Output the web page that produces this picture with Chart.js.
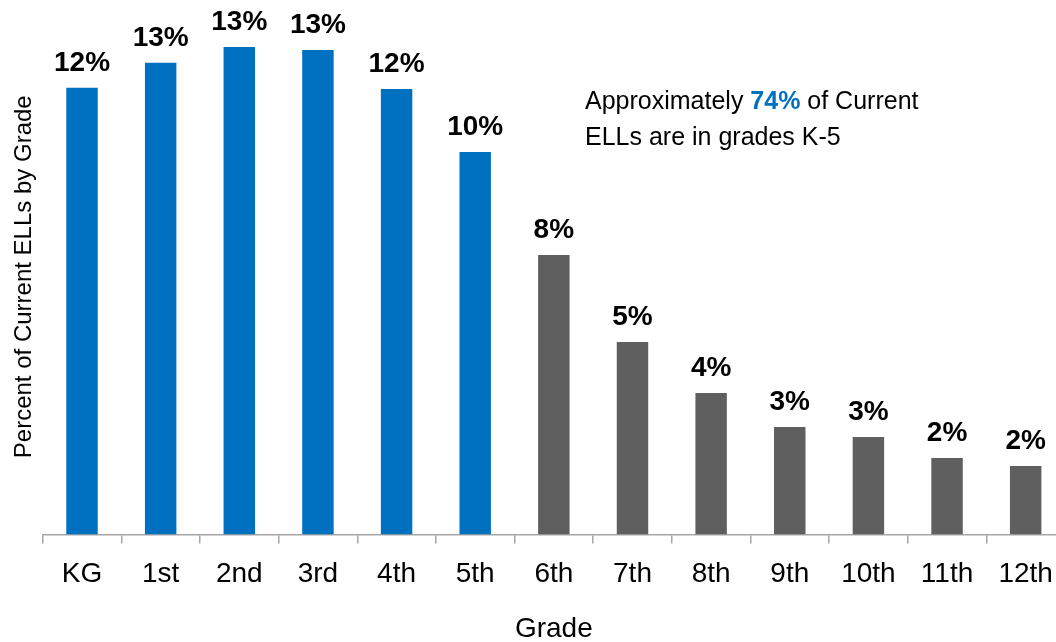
<!DOCTYPE html>
<html>
<head>
<meta charset="utf-8">
<script src="https://cdn.jsdelivr.net/npm/chart.js@4/dist/chart.umd.min.js"></script>
<style>
  html, body { margin: 0; padding: 0; background: #fff; overflow: hidden; }
  #wrap { width: 1070px; height: 642px; }
</style>
</head>
<body>
<div id="wrap"><canvas id="myChart" width="1070" height="642"></canvas></div>
<script>
const grades = ['KG', '1st', '2nd', '3rd', '4th', '5th', '6th', '7th', '8th', '9th', '10th', '11th', '12th'];
const shares = [12.13, 12.81, 13.24, 13.16, 12.10, 10.39, 7.59, 5.23, 3.84, 2.92, 2.65, 2.08, 1.86];
const elementaryCount = 6; // KG through 5th
const noteShare = 74;

const blue = '#0070C0';
const grey = '#5F5F5F';
const font = "'Liberation Sans', Arial, sans-serif";

// percent label above each bar
const barLabels = {
    id: 'barLabels',
    afterDatasetsDraw(chart) {
        const ctx = chart.ctx;
        const meta = chart.getDatasetMeta(0);
        ctx.save();
        ctx.font = 'bold 28px ' + font;
        ctx.fillStyle = '#000';
        ctx.textAlign = 'center';
        ctx.textBaseline = 'alphabetic';
        meta.data.forEach((bar, i) => {
            ctx.fillText(Math.round(shares[i]) + '%', bar.x, bar.y - 17);
        });
        ctx.restore();
    }
};

// callout text in the upper right
const note = {
    id: 'note',
    afterDraw(chart) {
        const ctx = chart.ctx;
        const x = 585;
        ctx.save();
        ctx.textBaseline = 'alphabetic';
        ctx.textAlign = 'left';
        ctx.fillStyle = '#000';
        ctx.font = '25px ' + font;
        const a = 'Approximately ';
        ctx.fillText(a, x, 109);
        let cx = x + ctx.measureText(a).width;
        ctx.font = 'bold 25px ' + font;
        ctx.fillStyle = blue;
        const b = noteShare + '%';
        ctx.fillText(b, cx, 109);
        cx += ctx.measureText(b).width;
        ctx.font = '25px ' + font;
        ctx.fillStyle = '#000';
        ctx.fillText(' of Current', cx, 109);
        ctx.fillText('ELLs are in grades K-5', x, 145);
        ctx.restore();
    }
};

new Chart(document.getElementById('myChart'), {
    type: 'bar',
    data: {
        labels: grades,
        datasets: [{
            data: shares,
            backgroundColor: shares.map((v, i) => i < elementaryCount ? blue : grey),
            barPercentage: 0.8,
            categoryPercentage: 0.5
        }]
    },
    options: {
        responsive: false,
        animation: false,
        layout: { padding: { top: 19, right: 5, bottom: 0, left: 0 } },
        plugins: {
            legend: { display: false },
            tooltip: { enabled: false }
        },
        scales: {
            x: {
                grid: {
                    drawOnChartArea: false,
                    tickLength: 9,
                    color: '#A6A6A6',
                    lineWidth: 1.5
                },
                border: { color: '#A6A6A6', width: 1.5 },
                ticks: {
                    color: '#000',
                    padding: 14,
                    font: { family: font, size: 28 }
                },
                title: {
                    display: true,
                    text: 'Grade',
                    color: '#000',
                    font: { family: font, size: 28, lineHeight: 0.6 }
                },
                afterFit: s => { s.height = 107.5; }
            },
            y: {
                min: 0,
                max: 14,
                grid: { display: false },
                border: { display: false },
                ticks: { display: false },
                title: {
                    display: true,
                    text: 'Percent of Current ELLs by Grade',
                    color: '#000',
                    font: { family: font, size: 24, lineHeight: 40 / 24 }
                },
                afterFit: s => { s.width = 42.7; }
            }
        }
    },
    plugins: [barLabels, note]
});
</script>
</body>
</html>
